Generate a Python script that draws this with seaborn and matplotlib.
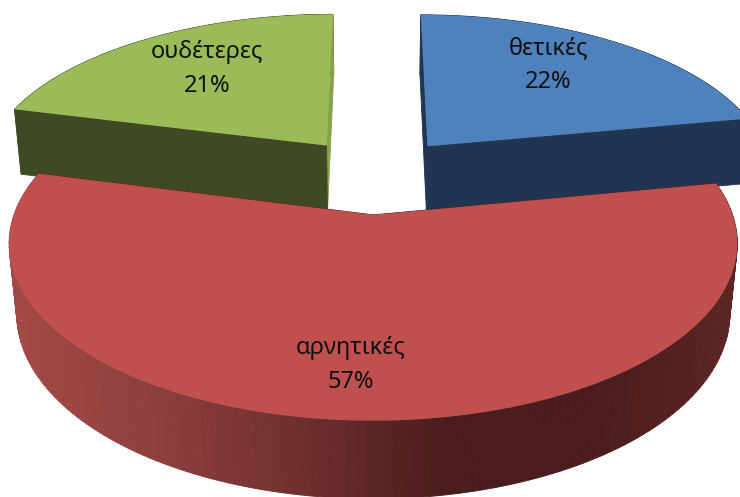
import numpy as np
import matplotlib
matplotlib.use('Agg')
import matplotlib.pyplot as plt
from matplotlib.transforms import Transform
import seaborn as sns

categories = ['θετικές', 'αρνητικές', 'ουδέτερες']
percents = [22, 57, 21]

top_colors = ['#4F81BD', '#C0504D', '#9BBB59']
wall_colors = ['#1F3552', '#4A1C1C', '#3F4A25']
inner_colors = ['#1F3552', '#4A1C1C', '#86A24C']
label_xy = [(548, 65), (351, 365), (207, 69)]

# perspective fitted to the picture, in pixels
CX, CY, RX, RY = 376, 175, 346, 160
K, KZ, DEPTH = 0.155, 0.02, 68


def project(x, y, z=0.0):
    w = 1 + K * y
    wz = w + KZ * z
    return CX + RX * x / wz, CY - RY * y / wz + DEPTH * z / w


class Tilt(Transform):
    input_dims = output_dims = 2

    def transform_non_affine(self, xy):
        px, py = project(xy[:, 0], xy[:, 1])
        return np.column_stack([px, py])


sns.set_theme(style='white')
plt.rcParams['font.family'] = ['Noto Sans', 'DejaVu Sans']

fig = plt.figure(figsize=(7.4, 4.97), dpi=100)
ax = fig.add_axes([0, 0, 1, 1])

wedges, _ = ax.pie(percents, explode=[0.24] * 3, startangle=90, counterclock=False,
                   colors=top_colors, radius=1, wedgeprops={'linewidth': 0})
ax.set_aspect('auto')
ax.set_xlim(0, 740)
ax.set_ylim(497, 0)
ax.axis('off')

shade = sns.blend_palette(['#A34A47', '#8E3F3C', '#6E2F2E', '#4A1C1C', '#4A1C1C', '#5C2523'], 200)


def wall(ax, xa, ya, xb, yb, color, z):
    # one upright quad between two floor points
    x0, y0 = project(xa, ya)
    x1, y1 = project(xb, yb)
    x2, y2 = project(xb, yb, 1)
    x3, y3 = project(xa, ya, 1)
    ax.fill([x0, x1, x2, x3], [y0, y1, y2, y3], color=color, lw=0.6, zorder=z)


# back slices first, the big front slice last
for order, i in enumerate([0, 2, 1]):
    w = wedges[i]
    z = 2 + order * 2
    cx, cy = w.center
    angles = np.radians(np.linspace(w.theta1, w.theta2, 160))
    rim_x = cx + w.r * np.cos(angles)
    rim_y = cy + w.r * np.sin(angles)
    for j in range(len(angles) - 1):
        if i == 1:
            px = project(rim_x[j], rim_y[j])[0]
            c = shade[int(np.clip(px / 740, 0, 0.999) * len(shade))]
        else:
            c = wall_colors[i]
        wall(ax, rim_x[j], rim_y[j], rim_x[j + 1], rim_y[j + 1], c, z)
    wall(ax, cx, cy, rim_x[0], rim_y[0], inner_colors[i], z)
    wall(ax, cx, cy, rim_x[-1], rim_y[-1], wall_colors[i], z)
    w.set_transform(Tilt() + ax.transData)
    w.set_zorder(z + 1)

for name, pct, (lx, ly) in zip(categories, percents, label_xy):
    ax.text(lx, ly, f'{name}\n{pct}%', ha='center', va='center', fontsize=17,
            color='#111111', linespacing=1.5, zorder=10)

fig.savefig('out.png', dpi=100)
